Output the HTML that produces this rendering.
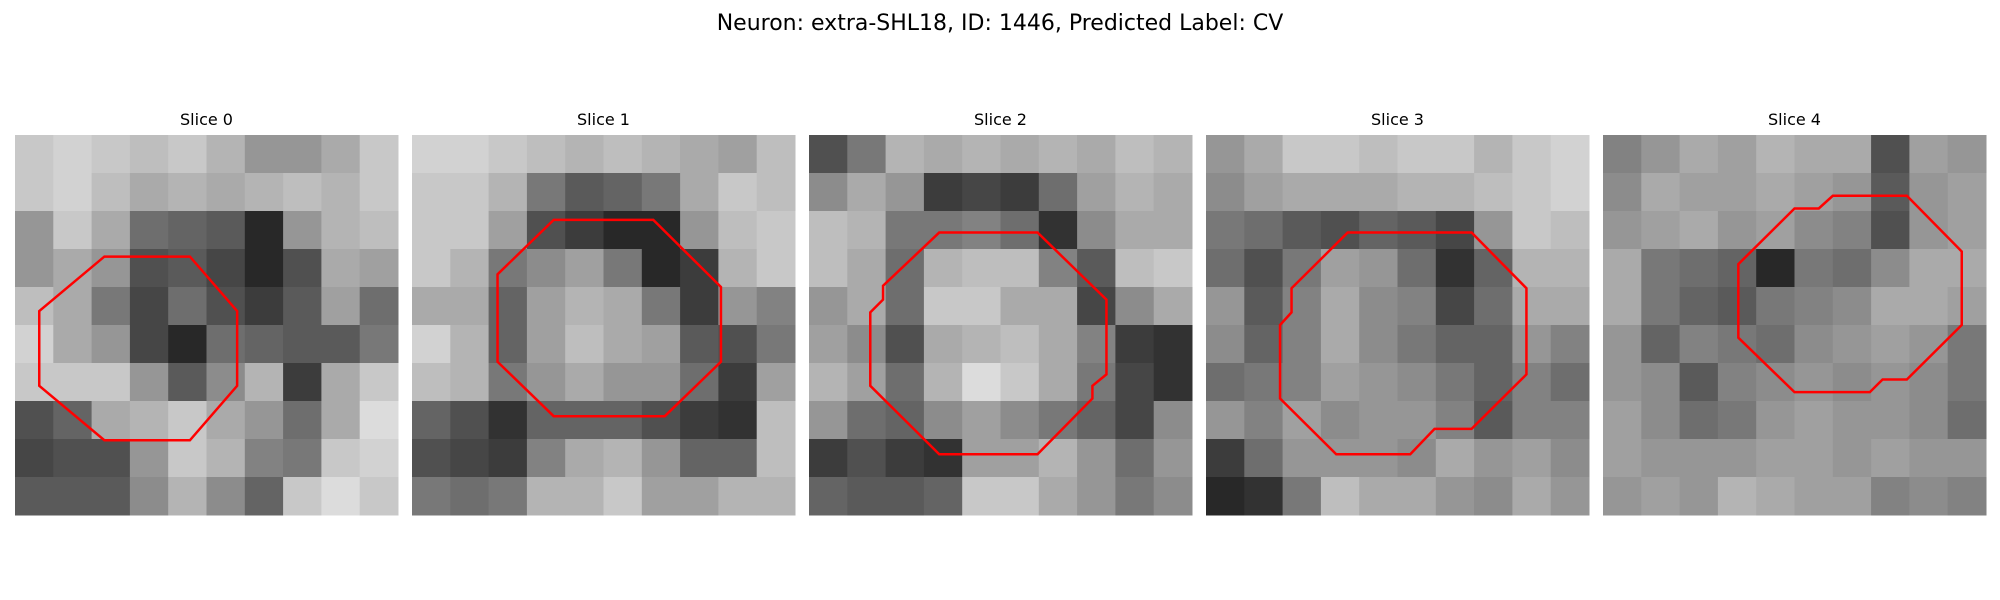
<!DOCTYPE html>
<html><head><meta charset="utf-8">
<style>
html,body{margin:0;padding:0;background:#fff;width:2000px;height:600px;overflow:hidden}
svg{display:block}
text{font-family:"DejaVu Sans","Liberation Sans",sans-serif;fill:#000}
</style></head>
<body>
<svg id="chart" width="2000" height="600" viewBox="0 0 2000 600">
<text x="1000" y="30" font-size="22" text-anchor="middle">Neuron: extra-SHL18, ID: 1446, Predicted Label: CV</text>
</svg>
<script>
const sliceTitles=["Slice 0","Slice 1","Slice 2","Slice 3","Slice 4"];
const grid0=[[200,210,200,190,200,180,150,150,170,200],[200,210,190,170,180,170,180,190,180,200],[150,200,170,110,100,90,40,150,180,190],[150,170,150,80,90,70,40,80,170,160],[190,170,120,70,110,80,60,90,160,110],[210,170,150,70,40,110,100,90,90,120],[200,200,200,150,90,140,180,60,170,200],[80,100,170,180,200,170,150,110,170,220],[70,80,80,150,200,180,130,120,200,210],[90,90,90,140,180,140,100,200,220,200]];
const grid1=[[210,210,200,190,180,190,180,170,160,190],[200,200,180,120,90,100,120,170,200,190],[200,200,160,80,60,40,40,150,190,200],[200,180,120,140,160,120,40,60,180,200],[170,170,100,160,180,170,120,60,150,130],[210,180,100,160,190,170,160,90,80,120],[190,180,120,150,170,150,150,110,60,160],[100,80,50,100,100,100,80,60,50,190],[80,70,60,130,170,180,150,100,100,190],[120,110,120,180,180,200,160,160,180,180]];
const grid2=[[80,120,180,170,180,170,180,170,190,180],[140,170,150,60,70,60,110,160,180,170],[190,180,120,120,130,110,50,140,170,170],[190,170,110,180,190,190,130,90,190,200],[150,170,110,200,200,170,170,70,140,170],[160,140,80,170,180,190,170,130,60,50],[180,160,110,180,220,200,170,120,70,50],[150,110,100,140,160,140,120,100,70,140],[60,80,60,50,160,160,180,150,110,150],[100,90,90,100,200,200,170,150,120,140]];
const grid3=[[150,170,200,200,190,200,200,180,200,210],[140,160,170,170,170,180,180,190,200,210],[120,110,90,80,100,90,70,150,200,190],[110,80,120,160,150,110,50,100,180,180],[150,90,130,170,140,130,70,110,170,170],[140,100,130,170,140,120,100,100,150,130],[110,120,130,160,150,140,120,100,130,110],[150,130,160,140,150,150,130,90,130,130],[60,110,150,150,150,140,170,150,160,140],[40,50,120,190,170,170,150,140,170,150]];
const grid4=[[130,150,170,160,180,170,170,80,160,150],[140,170,160,160,170,160,150,90,150,160],[150,160,170,150,160,140,130,80,150,160],[170,120,110,100,40,120,110,140,170,170],[170,120,100,90,120,130,140,170,170,160],[150,100,130,120,110,140,150,160,150,120],[150,140,90,130,140,150,140,150,140,120],[160,140,110,120,150,160,150,150,140,110],[160,150,150,150,160,160,150,160,150,150],[150,160,150,180,170,160,160,130,140,130]];
const octX0=[7.0,13.7,17.4,17.4,13.7,7.0,1.9,1.9];
const octY0=[9.6,9.6,13.9,19.8,24.1,24.1,19.8,13.9];
const octX1=[11.1,18.9,24.2,24.2,19.8,11.1,6.7,6.7];
const octY1=[6.7,6.7,12.0,17.9,22.2,22.2,17.9,11.0];
const octX2=[10.2,17.9,23.3,23.3,22.2,22.2,17.9,10.2,4.8,4.8,5.8,5.8];
const octY2=[7.7,7.7,13.0,18.9,19.8,20.8,25.2,25.2,19.8,14.0,13.0,11.9];
const octX3=[11.1,20.8,25.1,25.1,20.8,17.9,16.0,10.2,5.8,5.8,6.7,6.7];
const octY3=[7.7,7.7,12.1,18.9,23.2,23.2,25.2,25.2,20.8,15.0,14.0,12.1];
const octX4=[18.0,23.8,28.1,28.1,23.8,21.9,20.9,15.0,10.6,10.6,15.0,16.9];
const octY4=[4.8,4.8,9.2,15.0,19.3,19.3,20.3,20.3,16.0,10.2,5.8,5.8];
const grids=[grid0,grid1,grid2,grid3,grid4];
const octXs=[octX0,octX1,octX2,octX3,octX4];
const octYs=[octY0,octY1,octY2,octY3,octY4];
const NS="http://www.w3.org/2000/svg";
const svg=document.getElementById('chart');
const PX0=15, PSTEP=397, PW=383, PY=135, PH=380, NPIX=30;
function sx(i,v){return PX0+i*PSTEP+v*PW/NPIX;}
function sy(v){return PY+v*PH/NPIX;}
for(let p=0;p<5;p++){
  const g=document.createElementNS(NS,'g');
  
  
  svg.appendChild(g);
  const t=document.createElementNS(NS,'text');
  
  
  t.setAttribute('x',sx(p,15));t.setAttribute('y',125);
  t.setAttribute('font-size','16');t.setAttribute('text-anchor','middle');
  t.textContent=sliceTitles[p];g.appendChild(t);
  const grid=grids[p];const n=grid.length;
  for(let r=0;r<n;r++)for(let c=0;c<grid[r].length;c++){
    const v=grid[r][c];
    const rc=document.createElementNS(NS,'rect');
    
    
    const x0=sx(p,c*NPIX/n),x1=sx(p,(c+1)*NPIX/n),y0=sy(r*NPIX/n),y1=sy((r+1)*NPIX/n);
    rc.setAttribute('x',x0);rc.setAttribute('y',y0);
    rc.setAttribute('width',x1-x0+0.5);rc.setAttribute('height',y1-y0+0.5);
    rc.setAttribute('fill','rgb('+v+','+v+','+v+')');
    g.appendChild(rc);
  }
  const pts=octXs[p].map((x,k)=>sx(p,x)+','+sy(octYs[p][k])).join(' ');
  const poly=document.createElementNS(NS,'polygon');
  
  
  poly.setAttribute('points',pts);
  poly.setAttribute('fill','none');poly.setAttribute('stroke','#ff0000');poly.setAttribute('stroke-width','2.5');
  g.appendChild(poly);
}
</script>
</body></html>
